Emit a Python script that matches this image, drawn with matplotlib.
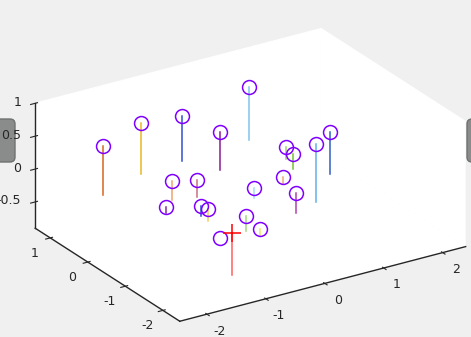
import numpy as np
import matplotlib
matplotlib.use('Agg')
import matplotlib.pyplot as plt
from matplotlib.patches import FancyBboxPatch
from matplotlib.transforms import IdentityTransform
from mpl_toolkits.mplot3d import proj3d

plt.rcParams['axes.unicode_minus'] = False
plt.rcParams['font.family'] = 'DejaVu Sans'

# point positions (marker), stems drop to z = 0
pt_x = [-2.13, -1.27, -0.55, -0.26, 0.67, -1.39, -1.02, -1.71, -1.33, -1.34,
        -0.36, -1.08, -0.99, -1.52, 0.75, 0.64, 0.32, 1.01, 0.26, -0.14]
pt_y = [0.11, 0.44, 0.50, -0.06, 0.61, -0.56, -0.66, -0.91, -1.25, -1.45,
        -1.14, -2.06, -2.29, -2.04, -0.24, -0.59, -1.72, -1.00, -0.94, -1.90]
pt_z = [0.75, 0.77, 0.69, 0.58, 0.80, 0.29, 0.26, 0.09, 0.14, 0.18,
        0.15, 0.23, 0.10, 0.00, 0.18, 0.24, 0.88, 0.63, 0.10, 0.30]
stem_colors = ['#d9661f', '#e8b820', '#2f4fd0', '#8a1a9a', '#80c4ee',
               '#f0a070', '#c87080', '#8a2a9a', '#3050d0', '#f0d060',
               '#a8dcf4', '#a0d880', '#f0e070', '#ffffff', '#a8cc70',
               '#77c030', '#60b0e8', '#3060c0', '#f0a878', '#b040b0']

# the single red target
target_x = [-1.28]
target_y = [-1.99]
target_z = [0.0]
target_low = [-0.64]

xlim = (-2.46, 2.39)
ylim = (-2.45, 1.40)
zlim = (-0.9, 1.0)
x_ticks = [-2, -1, 0, 1, 2]
y_ticks = [-2, -1, 0, 1]
z_ticks = [-0.5, 0, 0.5, 1]
x_labels = ['-2', '-1', '0', '1', '2']
y_labels = ['-2', '-1', '0', '1']
z_labels = ['-0.5', '0', '0.5', '1']

W, H = 471, 337
fig = plt.figure(figsize=(W / 100, H / 100), dpi=100, facecolor='#f0f0f0')
ax = fig.add_axes([0, 0, 1, 1], projection='3d', proj_type='ortho')
ax.patch.set_alpha(0)
ax.view_init(elev=24.2, azim=-122.5)
ax.set_box_aspect((4.85, 3.85, 1.96))

for i in range(len(pt_x)):
    ax.plot([pt_x[i], pt_x[i]], [pt_y[i], pt_y[i]], [0, pt_z[i]],
            color=stem_colors[i], lw=1.1)
ax.plot(pt_x, pt_y, pt_z, ls='none', marker='o', ms=10, mfc='none',
        mec='#7f00ff', mew=1.1)

ax.plot([target_x[0], target_x[0]], [target_y[0], target_y[0]],
        [target_low[0], target_z[0]], color='#ff6060', lw=1.1)
ax.plot(target_x, target_y, target_z, ls='none', marker='+', ms=13,
        mec='red', mew=1.1)

ax.set_xlim(*xlim)
ax.set_ylim(*ylim)
ax.set_zlim(*zlim)
ax.set_xticks(x_ticks)
ax.set_yticks(y_ticks)
ax.set_zticks(z_ticks)
ax.set_xticklabels([''] * len(x_ticks))
ax.set_yticklabels([''] * len(y_ticks))
ax.set_zticklabels([''] * len(z_ticks))
ax.grid(False)
for axis in (ax.xaxis, ax.yaxis, ax.zaxis):
    axis.set_pane_color((1, 1, 1, 1))
    axis.pane.set_edgecolor('white')
    axis.line.set_color('#262626')
    axis.line.set_linewidth(1.0)
ax.tick_params(axis='both', colors='#262626')
ax.tick_params(axis='z', colors='#262626')


def to_disp(xs, ys, zs):
    px, py, _ = proj3d.proj_transform(np.asarray(xs, float), np.asarray(ys, float),
                                      np.asarray(zs, float), ax.get_proj())
    return ax.transData.transform(np.column_stack([px, py]))


# fit the box onto the figure like the reference crop
fig.canvas.draw()
corners = np.array([(xlim[0], ylim[0], zlim[0]), (xlim[1], ylim[0], zlim[0]),
                    (xlim[0], ylim[1], zlim[0]), (xlim[0], ylim[1], zlim[1]),
                    (xlim[1], ylim[1], zlim[1])])
target = np.array([(180, 321), (467, 245), (35, 229), (35, 103), (320, 30)], float)
target[:, 1] = H - target[:, 1]
disp = to_disp(corners[:, 0], corners[:, 1], corners[:, 2])
bb = ax.get_position()
x0, y0, w = bb.x0 * W, bb.y0 * H, bb.width * W
u = (disp - [x0, y0]) / w
A = np.zeros((10, 3))
b = np.zeros(10)
A[0::2, 0] = 1
A[0::2, 2] = u[:, 0]
A[1::2, 1] = 1
A[1::2, 2] = u[:, 1]
b[0::2] = target[:, 0]
b[1::2] = target[:, 1]
P0x, P0y, wn = np.linalg.lstsq(A, b, rcond=None)[0]
ax.set_position([P0x / W, P0y / H, wn / W, wn / H])
fig.canvas.draw()

# tick labels placed next to the projected tick positions
lab_kw = dict(fontsize=9, color='#262626', transform=IdentityTransform())
n = len(x_ticks)
for (dx, dy), lab in zip(to_disp(x_ticks, [ylim[0]] * n, [zlim[0]] * n), x_labels):
    fig.text(dx + 13, dy - 16 - 4.5, lab, ha='center', va='baseline', **lab_kw)
n = len(y_ticks)
for (dx, dy), lab in zip(to_disp([xlim[0]] * n, y_ticks, [zlim[0]] * n), y_labels):
    fig.text(dx - 15.3, dy - 14.4 - 4.5, lab, ha='center', va='baseline', **lab_kw)
n = len(z_ticks)
for (dx, dy), lab in zip(to_disp([xlim[0]] * n, [ylim[1]] * n, z_ticks), z_labels):
    fig.text(dx - 14, dy + 2 - 4.5, lab, ha='right', va='baseline', **lab_kw)

# grey side handles of the figure window
for (hx, hy, hw, hh) in [(-8, 175, 23, 43), (467, 175, 25, 43)]:
    fig.add_artist(FancyBboxPatch((hx, hy), hw, hh,
                                  boxstyle='round,pad=0,rounding_size=5',
                                  transform=IdentityTransform(), zorder=-1,
                                  facecolor='#8a8c8c', edgecolor='#6f7171', lw=1))

fig.savefig('out.png', dpi=100, facecolor=fig.get_facecolor())
